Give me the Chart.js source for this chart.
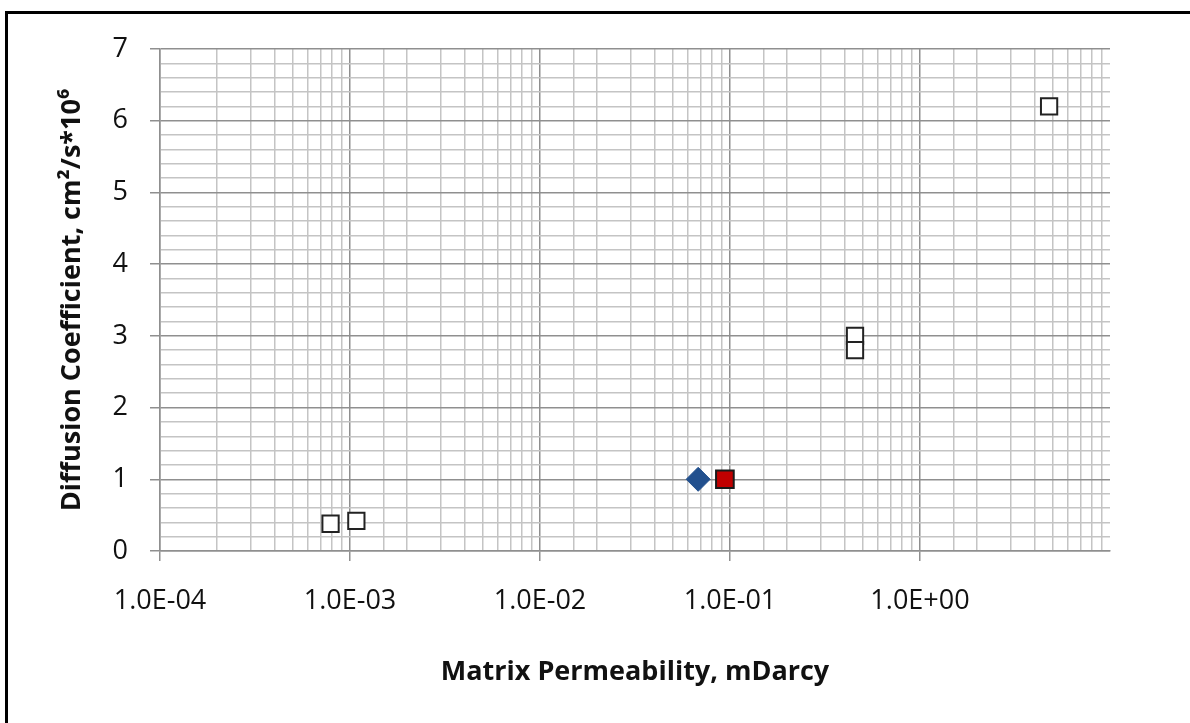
<!DOCTYPE html>
<html>
<head>
<meta charset="utf-8">
<script src="https://cdn.jsdelivr.net/npm/chart.js@4.4.0/dist/chart.umd.min.js"></script>
<style>
  html, body { margin: 0; padding: 0; background: #fff; }
  #wrap { width: 1190px; height: 723px; position: relative; }
</style>
</head>
<body>
<div id="wrap"><canvas id="chart"></canvas></div>
<script>
// values
const openPerm = [7.9e-4, 1.08e-3, 0.455, 0.455, 4.78];
const openDiff = [0.38, 0.42, 3.0, 2.8, 6.2];
const bluePerm = [0.068];
const blueDiff = [1.0];
const redPerm = [0.094];
const redDiff = [1.0];

const xTickLabels = ['1.0E-04', '1.0E-03', '1.0E-02', '1.0E-01', '1.0E+00'];
const yTickLabels = ['0', '1', '2', '3', '4', '5', '6', '7'];

const majorGrid = '#8f8f8f';
const minorGrid = '#c4c4c4';

const toPoints = (xs, ys) => xs.map((x, i) => ({ x: x, y: ys[i] }));

const isDecade = (v) => {
    const e = Math.log10(v);
    return Math.abs(e - Math.round(e)) < 1e-9;
};
const isWhole = (v) => Math.abs(v - Math.round(v)) < 1e-6;

// black frame round the chart (left and top edges show in the picture)
const framePlugin = {
    id: 'frame',
    afterDraw(chart) {
        const ctx = chart.ctx;
        ctx.save();
        ctx.strokeStyle = '#000';
        ctx.lineWidth = 3;
        ctx.strokeRect(6.5, 12.5, 1400, 1000);
        ctx.restore();
    }
};

const ctx = document.getElementById('chart').getContext('2d');

new Chart(ctx, {
    type: 'scatter',
    data: {
        datasets: [
            {
                label: 'open',
                data: toPoints(openPerm, openDiff),
                pointStyle: 'rect',
                pointRadius: 11.5,
                pointBackgroundColor: '#fff',
                pointBorderColor: '#222',
                pointBorderWidth: 2
            },
            {
                label: 'blue',
                data: toPoints(bluePerm, blueDiff),
                pointStyle: 'rectRot',
                pointRadius: 12,
                pointBackgroundColor: '#22508e',
                pointBorderColor: '#22508e',
                pointBorderWidth: 1
            },
            {
                label: 'red',
                data: toPoints(redPerm, redDiff),
                pointStyle: 'rect',
                pointRadius: 12.5,
                pointBackgroundColor: '#c00000',
                pointBorderColor: '#1a1a1a',
                pointBorderWidth: 2
            }
        ]
    },
    options: {
        responsive: true,
        maintainAspectRatio: false,
        animation: false,
        layout: { padding: { left: 20, top: 49, right: 80, bottom: 34 } },
        plugins: {
            legend: { display: false },
            tooltip: { enabled: false }
        },
        scales: {
            x: {
                type: 'logarithmic',
                min: 1e-4,
                max: 10,
                afterFit: (scale) => { scale.height = 723 - 34 - 551; },
                border: { display: true, color: majorGrid, width: 1.5 },
                grid: {
                    lineWidth: 1.5,
                    tickLength: 10,
                    color: (c) => {
                        if (!c.tick) return minorGrid;
                        if (c.tick.value >= 10) return 'rgba(0,0,0,0)';
                        return isDecade(c.tick.value) ? majorGrid : minorGrid;
                    },
                    tickColor: (c) => (c.tick && isDecade(c.tick.value) && c.tick.value < 10) ? majorGrid : 'rgba(0,0,0,0)'
                },
                ticks: {
                    autoSkip: false,
                    maxRotation: 0,
                    minRotation: 0,
                    padding: 24,
                    color: '#111',
                    font: { family: 'Open Sans', size: 27 },
                    callback: (v) => {
                        if (!isDecade(v)) return '';
                        const i = Math.round(Math.log10(v)) + 4;
                        return xTickLabels[i] || '';
                    }
                },
                title: {
                    display: true,
                    text: 'Matrix Permeability, mDarcy',
                    color: '#111',
                    font: { family: 'Open Sans', size: 27, weight: 'bold' },
                    padding: { top: 0, bottom: 0 }
                }
            },
            y: {
                min: 0,
                max: 7,
                afterFit: (scale) => { scale.width = 160 - 20; },
                border: { display: true, color: majorGrid, width: 1.5 },
                grid: {
                    lineWidth: 1.5,
                    tickLength: 10,
                    color: (c) => (c.tick && isWhole(c.tick.value)) ? majorGrid : minorGrid,
                    tickColor: (c) => (c.tick && isWhole(c.tick.value)) ? majorGrid : 'rgba(0,0,0,0)'
                },
                ticks: {
                    stepSize: 0.2,
                    autoSkip: false,
                    padding: 22,
                    color: '#111',
                    font: { family: 'Open Sans', size: 27 },
                    callback: (v) => isWhole(v) ? yTickLabels[Math.round(v)] : ''
                },
                title: {
                    display: true,
                    text: 'Diffusion Coefficient, cm²/s*10⁶',
                    color: '#111',
                    font: { family: 'Open Sans', size: 27, weight: 'bold' },
                    padding: { top: 36, bottom: 0 }
                }
            }
        }
    },
    plugins: [framePlugin]
});
</script>
</body>
</html>
